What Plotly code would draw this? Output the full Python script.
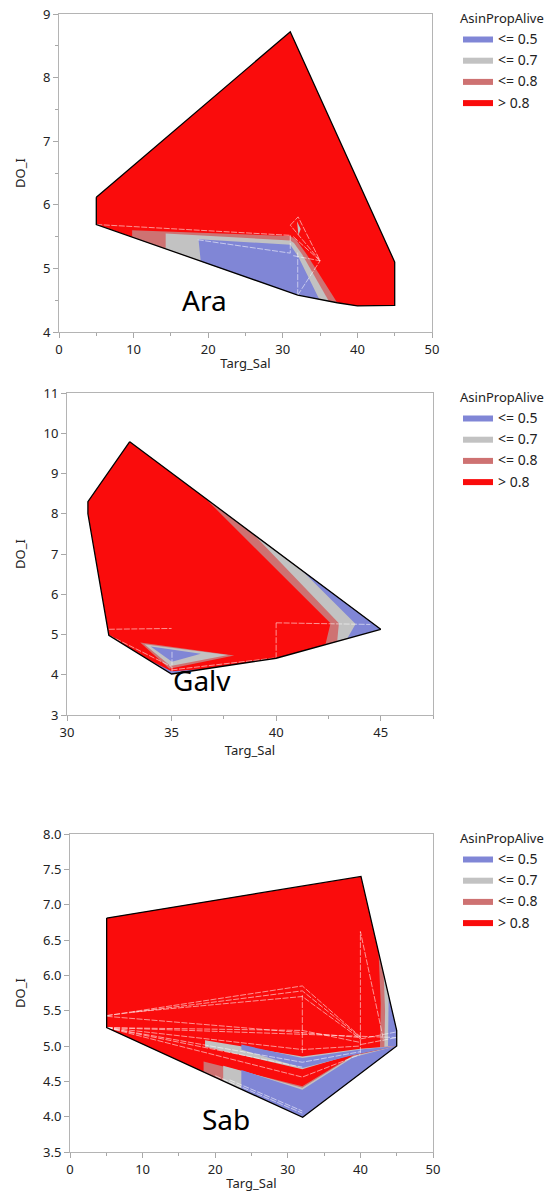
import plotly.graph_objects as go

# ---------------- categories / colours ----------------
LEVELS = ["> 0.8", "<= 0.8", "<= 0.7", "<= 0.5"]          # drawing order (outer -> inner)
LEVEL_COLORS = {"<= 0.5": "#8086D6", "<= 0.7": "#C2C2C2", "<= 0.8": "#CE7272", "> 0.8": "#FA0C0C"}
LEGEND_TITLE = "AsinPropAlive"

# ---------------- Ara (contour region polygons, Targ_Sal / DO_I) ----------------
ara_hull_sal = [5.0, 31.0, 45.0, 45.0, 40.0, 37.3, 32.0, 5.0]
ara_hull_do = [6.12, 8.72, 5.10, 4.42, 4.41, 4.46, 4.58, 5.69]
ara_le08_sal = [[9.8, 31.0, 31.8, 33.1, 37.3, 32.0, 9.8]]
ara_le08_do = [[5.60, 5.51, 5.45, 5.24, 4.46, 4.58, 5.49]]
ara_le07_sal = [[14.3, 31.0, 31.5, 32.6, 36.2, 32.0, 14.3], [31.9, 32.4, 32.1]]
ara_le07_do = [[5.55, 5.44, 5.40, 5.22, 4.48, 4.58, 5.31], [5.74, 5.62, 5.52]]
ara_le05_sal = [[18.7, 31.0, 31.4, 32.1, 34.9, 32.0, 19.0]]
ara_le05_do = [[5.46, 5.37, 5.30, 5.18, 4.51, 4.58, 5.11]]
ara_white_sal = [5.0, 31.0, None, 18.6, 31.0, None, 31.0, 31.0, None, 31.0, 32.05, 35.0, 31.0, None,
                 31.4, 35.0, None, 31.4, 35.0, None, 32.0, 35.0, None, 32.0, 32.0]
ara_white_do = [5.69, 5.52, None, 5.45, 5.24, None, 5.52, 5.24, None, 5.68, 5.81, 5.12, 5.68, None,
                5.50, 5.12, None, 5.20, 5.12, None, 4.58, 5.12, None, 4.58, 5.25]
ara_label = ["Ara", 19.5, 4.5]

# ---------------- Galv ----------------
galv_hull_sal = [33.0, 45.0, 40.0, 35.0, 32.0, 31.0, 31.0]
galv_hull_do = [9.79, 5.13, 4.41, 4.02, 4.98, 8.0, 8.3]
galv_le08_sal = [[36.56, 45.0, 42.36, 42.6], [33.5, 38.0, 34.9]]
galv_le08_do = [[8.41, 5.13, 4.755, 5.28], [4.80, 4.48, 4.15]]
galv_le07_sal = [[38.9, 45.0, 42.92, 43.0], [33.7, 37.7, 34.95]]
galv_le07_do = [[7.50, 5.13, 4.84, 5.28], [4.76, 4.49, 4.22]]
galv_le05_sal = [[41.2, 45.0, 43.40, 43.8], [34.0, 36.4, 35.02], [33.8, 35.0, 36.6, 35.0]]
galv_le05_do = [[6.61, 5.13, 4.90, 5.26], [4.70, 4.52, 4.32], [4.40, 4.02, 4.145, 4.09]]
galv_white_sal = [32.0, 35.0, None, 40.0, 44.5, None, 40.0, 40.0, None, 32.0, 35.0, None,
                  35.02, 35.02, None, 35.0, 40.0]
galv_white_do = [5.13, 5.15, None, 5.29, 5.25, None, 4.41, 5.29, None, 4.98, 4.20, None,
                 4.57, 4.08, None, 4.12, 4.42]
galv_label = ["Galv", 36.45, 3.87]

# ---------------- Sab ----------------
sab_hull_sal = [5.05, 40.08, 45.0, 45.0, 32.05, 5.05]
sab_hull_do = [6.81, 7.40, 5.22, 5.0, 3.99, 5.26]
sab_le08_sal = [[18.4, 32.0, 39.0, 45.0, 32.05, 18.4], [42.5, 45.0, 45.0, 42.7, 42.8]]
sab_le08_do = [[4.78, 4.43, 4.87, 5.0, 3.99, 4.632], [6.33, 5.22, 5.0, 4.98, 5.6]]
sab_le07_sal = [[21.1, 32.0, 39.0, 45.0, 32.05, 21.1],
                [18.6, 32.0, 40.0, 45.0, 38.5, 32.0, 18.6],
                [43.2, 45.0, 45.0, 43.3, 43.4]]
sab_le07_do = [[4.72, 4.41, 4.86, 5.0, 3.99, 4.505],
               [5.08, 4.85, 4.96, 5.0, 4.87, 4.67, 4.99],
               [6.02, 5.22, 5.0, 4.99, 5.5]]
sab_le05_sal = [[23.6, 32.0, 39.0, 45.0, 32.05, 23.6],
                [23.6, 32.0, 40.0, 45.0, 38.5, 32.0, 23.6],
                [43.9, 45.0, 45.0, 43.8]]
sab_le05_do = [[4.66, 4.38, 4.84, 5.0, 3.99, 4.387],
               [5.02, 4.83, 4.95, 5.0, 4.86, 4.69, 4.95],
               [5.71, 5.22, 5.0, 5.0]]
sab_white_sal = [5.05, 32.0, 40.0, None, 5.05, 32.0, 40.0, None, 8.7, 32.0, 40.0, None,
                 5.05, 40.0, None, 5.05, 32.0, 40.0, None, 5.05, 45.0, None,
                 5.05, 32.0, 40.0, None, 5.05, 32.0, 40.0, None, 5.05, 32.0, None,
                 5.05, 32.0, 40.0, None, 20.0, 32.0, None, 22.0, 32.0, None,
                 32.0, 32.0, None, 40.0, 40.0, 43.2, None, 40.0, 45.0, None, 40.0, 45.0]
sab_white_do = [5.43, 5.85, 5.13, None, 5.43, 5.78, 5.12, None, 5.48, 5.70, 5.10, None,
                5.42, 5.12, None, 5.26, 5.22, 5.05, None, 5.26, 5.12, None,
                5.26, 4.95, 5.0, None, 5.26, 4.77, 4.92, None, 5.26, 4.70, None,
                5.26, 4.56, 4.88, None, 4.58, 4.05, None, 4.52, 4.08, None,
                4.90, 5.72, None, 4.90, 6.62, 5.08, None, 5.10, 5.20, None, 5.02, 5.12]
sab_label = ["Sab", 21.5, 3.97]

# ---------------- build ----------------
PANELS = [
    dict(hull=(ara_hull_sal, ara_hull_do),
         regs={"<= 0.8": (ara_le08_sal, ara_le08_do), "<= 0.7": (ara_le07_sal, ara_le07_do),
               "<= 0.5": (ara_le05_sal, ara_le05_do)},
         white=(ara_white_sal, ara_white_do), label=ara_label),
    dict(hull=(galv_hull_sal, galv_hull_do),
         regs={"<= 0.8": (galv_le08_sal, galv_le08_do), "<= 0.7": (galv_le07_sal, galv_le07_do),
               "<= 0.5": (galv_le05_sal, galv_le05_do)},
         white=(galv_white_sal, galv_white_do), label=galv_label),
    dict(hull=(sab_hull_sal, sab_hull_do),
         regs={"<= 0.8": (sab_le08_sal, sab_le08_do), "<= 0.7": (sab_le07_sal, sab_le07_do),
               "<= 0.5": (sab_le05_sal, sab_le05_do)},
         white=(sab_white_sal, sab_white_do), label=sab_label),
]

FONT = "Noto Sans"
fig = go.Figure()

for i, p in enumerate(PANELS):
    sfx = "" if i == 0 else str(i + 1)
    xa, ya, lg = "x" + sfx, "y" + sfx, "legend" + sfx
    hx, hy = p["hull"]
    fig.add_trace(go.Scatter(x=hx + [hx[0]], y=hy + [hy[0]], fill="toself", mode="lines",
                             fillcolor=LEVEL_COLORS["> 0.8"], line=dict(width=0),
                             name="> 0.8", legend=lg, xaxis=xa, yaxis=ya, hoverinfo="skip"))
    for lev in LEVELS[1:]:
        xs_list, ys_list = p["regs"][lev]
        for k, (xs, ys) in enumerate(zip(xs_list, ys_list)):
            fig.add_trace(go.Scatter(x=xs + [xs[0]], y=ys + [ys[0]], fill="toself", mode="lines",
                                     fillcolor=LEVEL_COLORS[lev], line=dict(width=0),
                                     name=lev, legend=lg, showlegend=(k == 0),
                                     xaxis=xa, yaxis=ya, hoverinfo="skip"))
    wx, wy = p["white"]
    fig.add_trace(go.Scatter(x=wx, y=wy, mode="lines",
                             line=dict(color="rgba(255,255,255,0.8)", width=0.7, dash="6px,1.5px"),
                             showlegend=False, xaxis=xa, yaxis=ya, hoverinfo="skip"))
    fig.add_trace(go.Scatter(x=hx + [hx[0]], y=hy + [hy[0]], mode="lines",
                             line=dict(color="black", width=1.3), showlegend=False,
                             xaxis=xa, yaxis=ya, hoverinfo="skip"))
    txt, lx, ly = p["label"]
    fig.add_annotation(text=txt, x=lx, y=ly, xref=xa, yref=ya, showarrow=False,
                       font=dict(family=FONT, size=28, color="black"))

W, H = 557, 1195
AX = dict(showline=True, linecolor="#B4B4B4", linewidth=1, mirror=True, ticks="outside",
          ticklen=5, tickcolor="#A8A8A8", showgrid=False, zeroline=False, automargin=False,
          tickfont=dict(family=FONT, size=13, color="#222222"))
MINOR = dict(ticks="outside", ticklen=3, tickcolor="#A8A8A8", showgrid=False)

def dom_x(a, b):
    return [a / W, b / W]

def dom_y(top, bottom):
    return [1 - bottom / H, 1 - top / H]

TITLE_FONT = dict(family=FONT, size=13, color="#222222")

fig.update_layout(
    width=W, height=H, margin=dict(l=0, r=0, t=0, b=0, autoexpand=False),
    paper_bgcolor="white", plot_bgcolor="white",
    xaxis=dict(AX, domain=dom_x(59, 432), range=[0, 50], dtick=10, anchor="y",
               minor=dict(MINOR, dtick=5), title=dict(text="Targ_Sal", font=TITLE_FONT, standoff=2)),
    yaxis=dict(AX, domain=dom_y(14, 332), range=[4, 9], dtick=1, anchor="x",
               minor=dict(MINOR, dtick=0.5), title=dict(text="DO_I", font=TITLE_FONT, standoff=14)),
    xaxis2=dict(AX, domain=dom_x(67, 433), range=[30, 47.5], dtick=5, anchor="y2",
                minor=dict(MINOR, dtick=2.5), title=dict(text="Targ_Sal", font=TITLE_FONT, standoff=2)),
    yaxis2=dict(AX, domain=dom_y(393, 715), range=[3, 11], dtick=1, anchor="x2",
                title=dict(text="DO_I", font=TITLE_FONT, standoff=14)),
    xaxis3=dict(AX, domain=dom_x(70, 433), range=[0, 50], dtick=10, anchor="y3",
                minor=dict(MINOR, dtick=5), title=dict(text="Targ_Sal", font=TITLE_FONT, standoff=2)),
    yaxis3=dict(AX, domain=dom_y(834, 1152), range=[3.5, 8.0], dtick=0.5, tickformat=".1f", anchor="x3",
                title=dict(text="DO_I", font=TITLE_FONT, standoff=14)),
)

LEG = dict(xanchor="left", yanchor="top", traceorder="reversed", bgcolor="rgba(0,0,0,0)",
           font=dict(family=FONT, size=14, color="#222222"),
           title=dict(text=LEGEND_TITLE, font=dict(family=FONT, size=13, color="#222222")))
fig.update_layout(
    legend=dict(LEG, x=458 / W, y=1 - 6 / H),
    legend2=dict(LEG, x=458 / W, y=1 - 385 / H),
    legend3=dict(LEG, x=458 / W, y=1 - 826 / H),
)

fig.write_html("out.html")
